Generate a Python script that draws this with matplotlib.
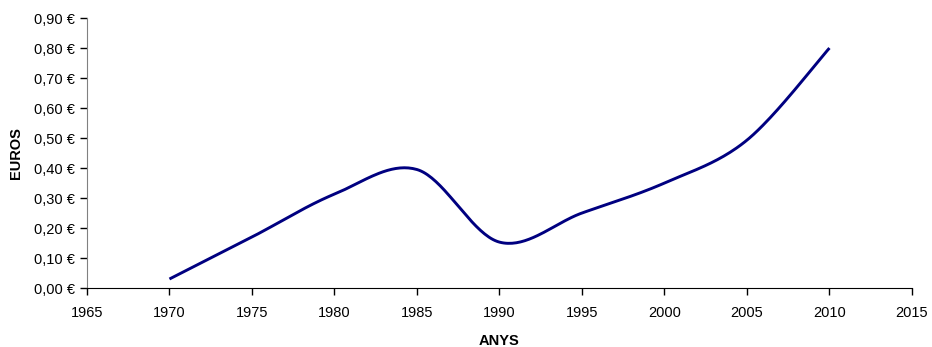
import numpy as np
import matplotlib.pyplot as plt
from matplotlib.ticker import FuncFormatter, MultipleLocator

plt.rcParams['font.family'] = ['Liberation Sans', 'DejaVu Sans']

# Dades llegides del gràfic
anys = [1970, 1975, 1980, 1985, 1990, 1995, 2000, 2005, 2010]
euros = [0.03, 0.17, 0.313, 0.395, 0.153, 0.25, 0.35, 0.493, 0.80]


def corba_suau(x, y, n=40):
    # Corba tipus Catmull-Rom (com la línia suavitzada d'Excel)
    x = np.asarray(x, float)
    y = np.asarray(y, float)
    px = np.concatenate([[x[0]], x, [x[-1]]])
    py = np.concatenate([[y[0]], y, [y[-1]]])
    xs, ys = [], []
    t = np.linspace(0, 1, n)
    for i in range(1, len(px) - 2):
        p0 = np.array([px[i], py[i]])
        p3 = np.array([px[i + 1], py[i + 1]])
        c1 = p0 + (np.array([px[i + 1], py[i + 1]]) - np.array([px[i - 1], py[i - 1]])) / 6
        c2 = p3 - (np.array([px[i + 2], py[i + 2]]) - np.array([px[i], py[i]])) / 6
        b = ((1 - t) ** 3)[:, None] * p0 + (3 * (1 - t) ** 2 * t)[:, None] * c1 \
            + (3 * (1 - t) * t ** 2)[:, None] * c2 + (t ** 3)[:, None] * p3
        xs.extend(b[:, 0])
        ys.extend(b[:, 1])
    return xs, ys


fig = plt.figure(figsize=(9.32, 3.47), dpi=100)
ax = fig.add_axes([0.0933, 0.170, 0.8852, 0.778])

sx, sy = corba_suau(anys, euros)
ax.plot(sx, sy, color='#000080', linewidth=2.1, solid_capstyle='butt')

ax.set_xlim(1965, 2015)
ax.set_ylim(0, 0.9)
ax.xaxis.set_major_locator(MultipleLocator(5))
ax.yaxis.set_major_locator(MultipleLocator(0.1))
ax.yaxis.set_major_formatter(FuncFormatter(lambda v, p: f'{v:.2f} €'.replace('.', ',')))

ax.spines['top'].set_visible(False)
ax.spines['right'].set_visible(False)
ax.spines['left'].set_color('#808080')
ax.spines['bottom'].set_color('black')
ax.tick_params(direction='out', length=5, width=1, labelsize=10.5, colors='black')
ax.tick_params(axis='x', pad=8)
ax.tick_params(axis='y', pad=3.5)

ax.set_xlabel('ANYS', fontweight='bold', fontsize=10.5, labelpad=10)
ax.set_ylabel('EUROS', fontweight='bold', fontsize=10.5, labelpad=8)

fig.savefig('out.png', dpi=100)
